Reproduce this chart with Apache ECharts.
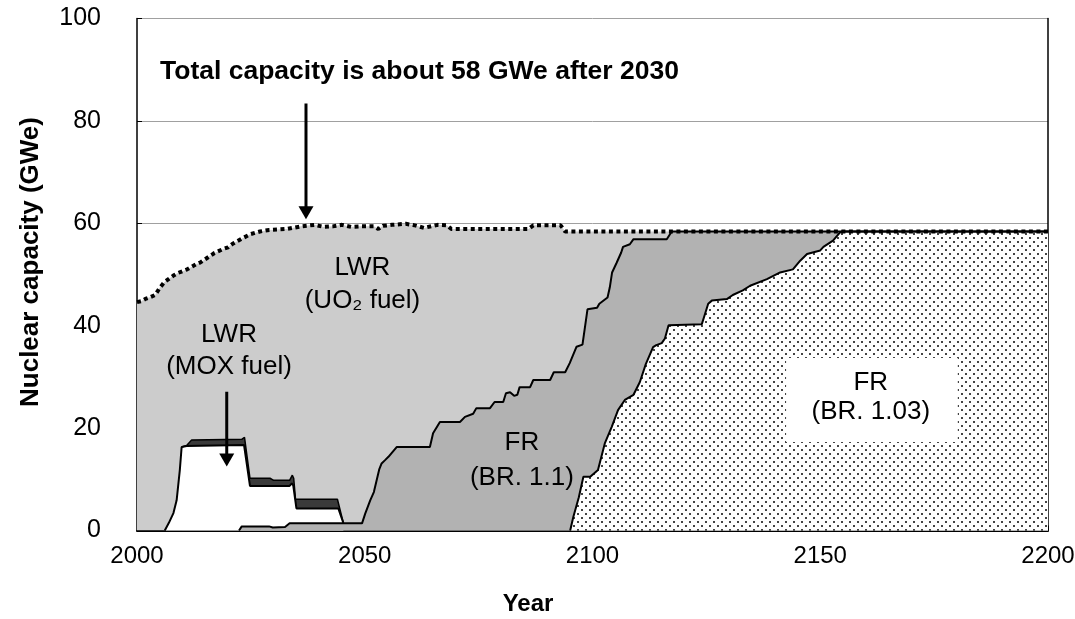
<!DOCTYPE html>
<html><head><meta charset="utf-8">
<script src="https://cdn.jsdelivr.net/npm/echarts@6/dist/echarts.min.js"></script>
<style>html,body{margin:0;padding:0;background:#fff}#c{width:1075px;height:619px}</style>
</head><body><div id="c"></div>
<script>
// ---- data ----
const xTickLabels = [2000, 2050, 2100, 2150, 2200];
const yTickLabels = [0, 20, 40, 60, 80, 100];

// Total nuclear capacity (top of the stack, dotted line)
const totalCapacity = [[2000,44.6],[2001,44.8],[2002,45.3],[2003,45.6],[2004,46],[2005,47.4],[2006,48.5],[2008,49.8],[2009,50.3],[2011,51],[2013,52],[2014,52.4],[2016,53.6],[2017,54.2],[2019,55],[2020,55.3],[2021,56],[2023,57],[2025,57.9],[2027,58.4],[2029,58.7],[2031,58.8],[2033,58.9],[2036,59.4],[2039,59.7],[2041,59.3],[2043,59.4],[2045,59.7],[2047,59.3],[2049,59.4],[2052,59.4],[2053,58.9],[2054,59.5],[2056,59.7],[2059,59.9],[2061,59.6],[2063,59.1],[2066,59.7],[2068,59.6],[2069,58.9],[2086,58.9],[2087,59.6],[2093,59.6],[2094,58.4],[2200,58.4]];

// Top of the dark band above LWR MOX
const moxBandTop = [[2009.8,16.3],[2010.9,16.6],[2012,17.7],[2023,17.8],[2023.6,18.2],[2023.9,18.1],[2024.8,10.2],[2029.2,10.2],[2030,9.8],[2033.5,9.8],[2034.1,10.8],[2034.4,10.2],[2034.8,6.1],[2044,6.1],[2045.3,1.5]];

// Top of LWR (MOX fuel)
const moxTop = [[2006.1,0],[2007,1.5],[2008,3.4],[2008.7,5.9],[2009.4,11.8],[2009.8,16.3],[2010.9,16.5],[2023.5,16.7],[2023.8,16.6],[2024.8,8.7],[2033.5,8.7],[2034,9.2],[2034.3,8.8],[2035,4.3],[2044.2,4.3],[2045.3,1.5]];

// Top of FR (BR. 1.1) (cumulative with FR BR. 1.03)
const fr11Top = [[2022.4,0],[2023,0.8],[2029,0.8],[2029.8,0.6],[2032.5,0.7],[2033.5,1.4],[2049.4,1.4],[2050.1,3.3],[2051.2,5.9],[2052,7.5],[2053.2,12],[2053.7,13.1],[2054.4,13.7],[2055.2,14.4],[2057,16.3],[2064.3,16.3],[2065,19],[2066.5,21.2],[2070.9,21.2],[2072,22.2],[2073.8,22.8],[2074.5,23.9],[2077.5,23.9],[2078.5,25.1],[2080.4,25.1],[2081,26.8],[2081.9,27],[2082.8,26.3],[2083.5,26.5],[2084,28],[2086.3,28],[2087,29.4],[2090.7,29.4],[2091.5,30.9],[2094,30.9],[2095,32.7],[2096.5,35.9],[2097.8,36.3],[2098.9,43.2],[2101,43.5],[2101.5,44.3],[2103.3,45.5],[2103.8,47.5],[2104.3,50.4],[2105.3,52.3],[2106.3,54.3],[2106.7,55.4],[2108.2,55.9],[2109,56.9],[2116.3,56.9],[2117.4,58.4],[2200,58.4]];

// Top of FR (BR. 1.03)
const fr103Top = [[2095.1,0],[2095.8,2.7],[2097,6.5],[2098,10.5],[2099.5,10.5],[2101.2,11.8],[2102.7,17],[2104.2,20.2],[2105.6,23.5],[2107.1,25.5],[2109,26.5],[2110.4,29],[2111.7,32.5],[2113.3,35.8],[2114,36.2],[2115.2,36.6],[2115.9,37.5],[2116.7,40.1],[2124,40.3],[2124.7,42.3],[2125.4,44.3],[2126.2,44.9],[2129.5,45.2],[2130.8,46],[2133,46.9],[2134.6,47.8],[2138.3,49.1],[2141.2,50.4],[2144,51],[2145.6,52.7],[2147.1,54],[2150,54.7],[2150.7,55.4],[2152.8,56.6],[2154.3,58.2],[2154.8,58.4],[2200,58.4]];

// ---- presentation ----
const FONT = '"Liberation Sans", Arial, Helvetica, sans-serif';

function dotPattern() {
  const c = document.createElement('canvas');
  c.width = 8; c.height = 8;
  const g = c.getContext('2d');
  g.fillStyle = '#ffffff'; g.fillRect(0, 0, 8, 8);
  g.fillStyle = '#444444';
  g.fillRect(1, 1, 2, 2);
  g.fillRect(5, 5, 2, 2);
  return c;
}

function areaSeries(name, data, fill, lineW) {
  return {
    type: 'line', name, data, symbol: 'none', showSymbol: false, silent: true,
    lineStyle: lineW ? { color: '#000', width: lineW } : { width: 0, opacity: 0 },
    areaStyle: { color: fill, opacity: 1 }
  };
}

const chart = echarts.init(document.getElementById('c'), null, { renderer: 'canvas' });

chart.setOption({
  animation: false,
  backgroundColor: '#ffffff',
  grid: { left: 137, right: 27, top: 18.5, bottom: 88.5, containLabel: false, outerBoundsMode: 'none' },
  xAxis: {
    type: 'value', min: 2000, max: 2200, interval: 50,
    axisLine: { show: true, onZero: false, lineStyle: { color: '#000', width: 2 } },
    axisTick: { show: true, inside: true, length: 5, lineStyle: { color: '#000', width: 1 } },
    minorTick: { show: true, splitNumber: 5, length: 5, lineStyle: { color: '#000', width: 1 } },
    splitLine: { show: false },
    axisLabel: { fontSize: 24, color: '#000', margin: 14, fontFamily: FONT,
      formatter: v => xTickLabels.includes(v) ? String(v) : '' }
  },
  yAxis: [{
    type: 'value', min: 0, max: 100, interval: 20,
    axisLine: { show: true, lineStyle: { color: '#000', width: 1.5 } },
    axisTick: { show: true, inside: true, length: 5, lineStyle: { color: '#000', width: 1 } },
    splitLine: { show: true, lineStyle: { color: '#a0a0a0', width: 1 } },
    axisLabel: { fontSize: 25, color: '#000', margin: 36, fontFamily: FONT,
      formatter: v => yTickLabels.includes(v) ? String(v) : '' }
  }, {
    type: 'value', position: 'right', min: 0, max: 100,
    axisLine: { show: true, lineStyle: { color: '#000', width: 1.5 } },
    axisTick: { show: false }, axisLabel: { show: false }, splitLine: { show: false }
  }],
  series: [
    areaSeries('LWR (UO2 fuel)', totalCapacity, '#cccccc', 0),
    areaSeries('LWR MOX band', moxBandTop, '#3a3a3a', 1.5),
    areaSeries('LWR (MOX fuel)', moxTop, '#ffffff', 2),
    areaSeries('FR (BR. 1.1)', fr11Top, '#b2b2b2', 2),
    areaSeries('FR (BR. 1.03)', fr103Top, { image: dotPattern(), repeat: 'repeat' }, 2),
    { type: 'line', name: 'Total', data: totalCapacity, symbol: 'none', showSymbol: false, silent: true,
      lineStyle: { color: '#000', width: 4, type: [4, 3.5], cap: 'butt' } }
  ]
});

// ---- annotations (anchored in data coordinates) ----
function px(x, y) { return chart.convertToPixel({ xAxisIndex: 0, yAxisIndex: 0 }, [x, y]); }
function txt(x, y, text, opts) {
  const p = px(x, y);
  return { type: 'text', x: p[0], y: p[1], z: 100, silent: true,
    style: Object.assign({ text, fill: '#000', font: '26px ' + FONT, align: 'center', verticalAlign: 'middle' }, opts || {}) };
}
function arrow(x, y0, y1) {
  const a = px(x, y0), b = px(x, y1);
  const hh = 13, hw = 7.5;
  return [
    { type: 'line', z: 100, silent: true, shape: { x1: a[0], y1: a[1], x2: b[0], y2: b[1] - hh + 1 },
      style: { stroke: '#000', lineWidth: 3 } },
    { type: 'polygon', z: 100, silent: true,
      shape: { points: [[b[0] - hw, b[1] - hh], [b[0] + hw, b[1] - hh], [b[0], b[1]]] },
      style: { fill: '#000' } }
  ];
}
const box0 = px(2142.5, 33.7), box1 = px(2180.2, 17.3);
const graphics = [
  txt(2005.05, 89.7, 'Total capacity is about 58 GWe after 2030', { align: 'left', font: 'bold 26.5px ' + FONT }),
  ...arrow(2037.1, 83.4, 60.8),
  txt(2049.5, 51.3, 'LWR'),
  txt(2049.5, 44.8, '(UO\u2082 fuel)'),
  txt(2020.2, 38.2, 'LWR'),
  txt(2020.2, 31.9, '(MOX fuel)'),
  ...arrow(2019.7, 27.1, 12.5),
  txt(2084.5, 17.1, 'FR'),
  txt(2084.5, 10.2, '(BR. 1.1)'),
  { type: 'rect', z: 99, silent: true,
    shape: { x: box0[0], y: box0[1], width: box1[0] - box0[0], height: box1[1] - box0[1] },
    style: { fill: '#ffffff' } },
  txt(2161.1, 28.8, 'FR'),
  txt(2161.1, 23.1, '(BR. 1.03)'),
  { type: 'text', x: 528, y: 604, z: 100, silent: true,
    style: { text: 'Year', fill: '#000', font: 'bold 24px ' + FONT, align: 'center', verticalAlign: 'middle' } },
  { type: 'text', x: 31, y: 262, rotation: Math.PI / 2, z: 100, silent: true,
    style: { text: 'Nuclear capacity (GWe)', fill: '#000', font: 'bold 26px ' + FONT, align: 'center', verticalAlign: 'middle' } }
];
chart.setOption({ graphic: graphics });
</script>
</body></html>
